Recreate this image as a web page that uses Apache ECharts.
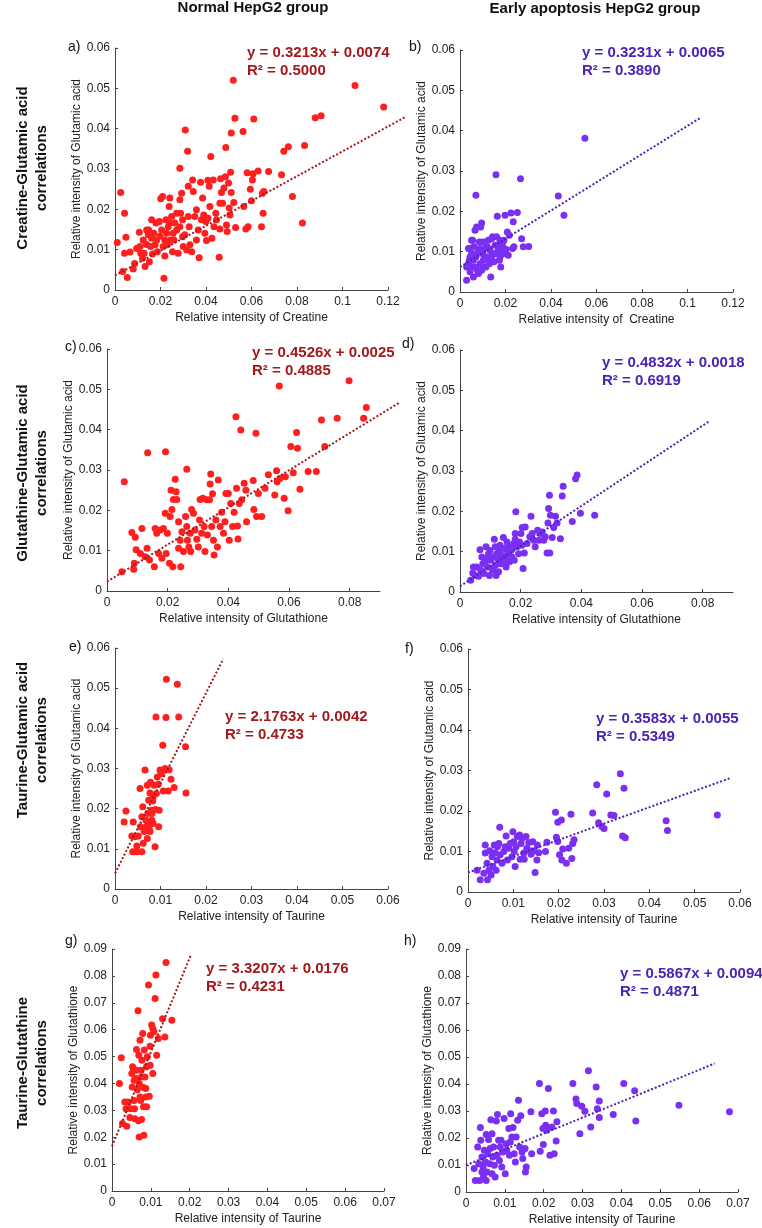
<!DOCTYPE html>
<html>
<head>
<meta charset="utf-8">
<script src="https://cdn.jsdelivr.net/npm/echarts@6/dist/echarts.min.js"></script>
<style>
html, body { margin: 0; padding: 0; background: #fff; }
#main { width: 762px; height: 1228px; }
</style>
</head>
<body>
<div id="main"></div>
<script>
// ---- data ----
var creGluNormal = [
  [0.001,0.0118],[0.0025,0.0242],[0.0042,0.019],[0.0048,0.0131],[0.0034,0.0046],[0.0054,0.0031],[0.0042,0.0091],
  [0.0066,0.0094],[0.008,0.0052],[0.0086,0.0066],[0.0095,0.0103],[0.0107,0.0143],[0.0113,0.0091],[0.0121,0.0079],
  [0.0124,0.0124],[0.0132,0.0058],[0.0139,0.0149],[0.0139,0.0113],[0.0146,0.0137],[0.0151,0.007],[0.0157,0.0108],
  [0.0165,0.0089],[0.0171,0.0141],[0.018,0.0166],[0.0183,0.0124],[0.0186,0.0095],[0.0198,0.0133],[0.0201,0.0226],
  [0.0209,0.0232],[0.0205,0.0149],[0.0212,0.0108],[0.0215,0.0029],[0.0219,0.0084],[0.0224,0.0174],[0.0227,0.0141],
  [0.0234,0.0157],[0.0238,0.0207],[0.0241,0.0228],[0.0244,0.0124],[0.0249,0.0182],[0.0253,0.0095],[0.0256,0.0141],
  [0.0263,0.0166],[0.0271,0.0149],[0.0278,0.0091],[0.0285,0.0302],[0.0285,0.0224],[0.0293,0.024],[0.0288,0.019],
  [0.0297,0.0132],[0.03,0.0108],[0.0309,0.0397],[0.0315,0.0099],[0.0319,0.0344],[0.0322,0.0257],[0.0326,0.0157],
  [0.0337,0.0095],[0.0341,0.0273],[0.0344,0.0244],[0.0351,0.0182],[0.0358,0.0124],[0.0366,0.0149],[0.037,0.008],
  [0.0376,0.0267],[0.0385,0.0228],[0.039,0.0186],[0.0399,0.017],[0.0402,0.0123],[0.0408,0.0272],[0.0414,0.0257],
  [0.0417,0.0207],[0.0421,0.0331],[0.0426,0.0128],[0.0432,0.0273],[0.0435,0.0157],[0.0443,0.019],[0.0458,0.0081],
  [0.0461,0.0151],[0.0464,0.0276],[0.0468,0.0242],[0.0473,0.0215],[0.0479,0.0253],[0.0485,0.0281],[0.0487,0.0353],
  [0.049,0.0161],[0.0493,0.0145],[0.0499,0.0265],[0.0502,0.0203],[0.0508,0.0292],[0.0511,0.0389],[0.0511,0.0242],
  [0.052,0.052],[0.0522,0.0217],[0.0527,0.0426],[0.053,0.0155],[0.0563,0.0393],[0.0566,0.0207],[0.0575,0.0151],
  [0.0581,0.0291],[0.0585,0.0157],[0.0595,0.025],[0.06,0.0221],[0.0604,0.0273],[0.0607,0.0288],[0.061,0.0424],
  [0.0629,0.0295],[0.0644,0.0157],[0.0648,0.024],[0.0651,0.019],[0.0654,0.0244],[0.0675,0.0294],[0.0732,0.0286],
  [0.0742,0.0344],[0.0762,0.0355],[0.078,0.0232],[0.0824,0.0166],[0.0833,0.0358],[0.088,0.0427],[0.0906,0.0432],
  [0.1055,0.0507],[0.1181,0.0454],
  [0.0161,0.0174],[0.0176,0.0112],[0.0195,0.017],[0.0219,0.0124],[0.023,0.0112],[0.0241,0.0166],[0.0259,0.0124],
  [0.0271,0.019],[0.0285,0.0157],[0.0297,0.0174],[0.0307,0.0137],[0.0322,0.0182],[0.0329,0.0112],[0.0358,0.0199],
  [0.038,0.0174],[0.0395,0.0141],[0.0409,0.0178],[0.0446,0.0174],[0.0461,0.0215],[0.0505,0.0186],[0.011,0.0108],
  [0.0128,0.0091],[0.0148,0.0149],[0.0161,0.0128]
];
var creGluApop = [
  [0.0029,0.0029],[0.0029,0.0062],[0.0037,0.0108],[0.0041,0.0079],[0.0044,0.005],[0.0051,0.0128],[0.0051,0.0095],
  [0.0056,0.0062],[0.0059,0.0037],[0.0061,0.0112],[0.0066,0.0153],[0.007,0.024],[0.007,0.0087],[0.0073,0.0161],
  [0.0076,0.0054],[0.0081,0.0103],[0.0085,0.0124],[0.0088,0.007],[0.0091,0.0161],[0.0095,0.0171],[0.01,0.0095],
  [0.0102,0.0124],[0.0105,0.0062],[0.011,0.0108],[0.0117,0.0087],[0.012,0.0112],[0.0124,0.0083],[0.0132,0.0103],
  [0.0135,0.0037],[0.0139,0.0132],[0.0143,0.0137],[0.0146,0.0095],[0.0149,0.0075],[0.0154,0.0116],[0.0158,0.0291],
  [0.0161,0.0137],[0.0164,0.0188],[0.0168,0.0103],[0.0173,0.0079],[0.0176,0.0128],[0.0179,0.0062],[0.0183,0.0108],
  [0.019,0.0095],[0.0193,0.0128],[0.0198,0.019],[0.0202,0.0106],[0.0208,0.0149],[0.0212,0.0091],[0.0217,0.0141],
  [0.0224,0.0196],[0.0231,0.0108],[0.0234,0.0174],[0.0237,0.0112],[0.0252,0.0197],[0.0266,0.0281],[0.0271,0.0132],
  [0.0278,0.0112],[0.0302,0.0113],[0.0432,0.0238],[0.0457,0.019],[0.0549,0.0381],
  [0.0037,0.007],[0.0044,0.0087],[0.0047,0.0108],[0.0056,0.0128],[0.0059,0.0079],[0.0066,0.0062],[0.0073,0.0095],
  [0.0081,0.0046],[0.0088,0.0108],[0.0095,0.0054],[0.0102,0.0079],[0.0114,0.0062],[0.0124,0.0128],[0.0129,0.007],
  [0.0139,0.0087],[0.0154,0.0095],[0.0164,0.0116],[0.0176,0.0087],[0.0187,0.012]
];
var gshGluNormal = [
  [0.0049,0.0048],[0.0057,0.0271],[0.0082,0.0145],[0.0088,0.0054],[0.009,0.0069],[0.0093,0.0133],[0.0096,0.0102],
  [0.011,0.0093],[0.0115,0.0155],[0.0126,0.0085],[0.0132,0.0106],[0.0134,0.0343],[0.014,0.0077],[0.0156,0.006],
  [0.0159,0.0155],[0.0164,0.0143],[0.017,0.0093],[0.0175,0.0151],[0.0181,0.0081],[0.0186,0.0155],[0.0192,0.0193],
  [0.0193,0.0345],[0.0195,0.0093],[0.0199,0.0143],[0.0206,0.0069],[0.0208,0.0185],[0.0211,0.025],[0.0214,0.0202],
  [0.0217,0.006],[0.0219,0.0227],[0.0225,0.0277],[0.0228,0.0246],[0.023,0.0227],[0.0236,0.0172],[0.0236,0.0106],
  [0.0241,0.0126],[0.0243,0.006],[0.0247,0.0147],[0.0252,0.0098],[0.0259,0.0185],[0.0263,0.0302],[0.0263,0.016],
  [0.0265,0.0126],[0.027,0.0109],[0.0274,0.0143],[0.0276,0.0098],[0.0279,0.0202],[0.0285,0.0193],[0.029,0.0151],
  [0.0296,0.0128],[0.0301,0.0109],[0.0305,0.0176],[0.0307,0.0227],[0.0312,0.0143],[0.0316,0.023],[0.032,0.016],
  [0.0323,0.0098],[0.0329,0.0226],[0.0331,0.0139],[0.0338,0.0226],[0.034,0.0265],[0.0342,0.029],[0.0345,0.016],
  [0.0348,0.0241],[0.0351,0.0126],[0.0353,0.0089],[0.0359,0.0176],[0.0364,0.0109],[0.0367,0.0275],[0.0373,0.016],
  [0.0378,0.0195],[0.0384,0.0143],[0.0389,0.0172],[0.0392,0.0242],[0.04,0.0242],[0.0403,0.0126],[0.0408,0.0217],
  [0.0414,0.016],[0.0419,0.0195],[0.0425,0.0432],[0.0427,0.0255],[0.043,0.0161],[0.0432,0.0129],[0.0436,0.0217],
  [0.0441,0.0399],[0.0444,0.0226],[0.0452,0.0267],[0.0458,0.025],[0.046,0.0172],[0.0482,0.0274],[0.0484,0.0202],
  [0.0491,0.0391],[0.0493,0.0185],[0.0499,0.0242],[0.051,0.0185],[0.0521,0.0255],[0.0532,0.0288],[0.0553,0.0238],
  [0.0559,0.0298],[0.0561,0.0271],[0.0568,0.0508],[0.057,0.0279],[0.0584,0.023],[0.0588,0.0283],[0.0597,0.0199],
  [0.0606,0.0358],[0.0614,0.0293],[0.0625,0.0393],[0.0628,0.0354],[0.0636,0.0252],[0.0663,0.0296],[0.069,0.0296],
  [0.0707,0.0424],[0.0718,0.0358],[0.0759,0.0428],[0.0798,0.0521],[0.0846,0.0428],[0.0855,0.0455]
];
var gshGluApop = [
  [0.0035,0.0029],[0.0042,0.0047],[0.005,0.0041],[0.0055,0.0062],[0.0061,0.0039],[0.0066,0.0105],[0.0068,0.0054],
  [0.0075,0.007],[0.0079,0.0046],[0.0083,0.0075],[0.0086,0.0112],[0.009,0.0062],[0.0094,0.0095],[0.0097,0.0041],
  [0.0102,0.0079],[0.0105,0.0058],[0.0108,0.0054],[0.011,0.0087],[0.0113,0.0131],[0.0116,0.0066],[0.0119,0.0041],
  [0.0121,0.0095],[0.0127,0.0079],[0.013,0.0103],[0.0132,0.007],[0.0138,0.0091],[0.0143,0.0135],[0.0146,0.0108],
  [0.0149,0.0083],[0.0152,0.0062],[0.0157,0.0095],[0.016,0.0112],[0.0163,0.0075],[0.0168,0.0103],[0.0171,0.0087],
  [0.0177,0.012],[0.0179,0.0079],[0.0182,0.0131],[0.0184,0.0199],[0.0188,0.0112],[0.0193,0.0095],[0.0196,0.0124],
  [0.0201,0.0145],[0.0205,0.016],[0.0208,0.0058],[0.0212,0.0097],[0.0215,0.0161],[0.0221,0.012],[0.023,0.0137],
  [0.0234,0.0188],[0.0243,0.0128],[0.0248,0.0112],[0.0256,0.0153],[0.026,0.0128],[0.0265,0.0145],[0.0271,0.0149],
  [0.0276,0.0128],[0.0281,0.0137],[0.0287,0.0097],[0.029,0.0171],[0.0292,0.0207],[0.0295,0.024],[0.0296,0.0097],
  [0.0298,0.019],[0.0304,0.0135],[0.0309,0.016],[0.0315,0.0188],[0.032,0.0171],[0.0331,0.0132],[0.0337,0.0238],
  [0.034,0.0262],[0.037,0.0175],[0.0381,0.0281],[0.0386,0.029],[0.0397,0.0195],[0.0444,0.019],
  [0.0044,0.0062],[0.0072,0.0087],[0.0088,0.0083],[0.0099,0.0103],[0.0116,0.0112],[0.0127,0.005],[0.0132,0.0116],
  [0.0141,0.007],[0.0155,0.0124],[0.0171,0.0108],[0.0182,0.0145],[0.0204,0.0116],[0.0238,0.0145]
];
var tauGluNormal = [
  [0.002,0.0167],[0.0024,0.0194],[0.0037,0.0132],[0.0039,0.0093],[0.004,0.0167],[0.0044,0.013],[0.0048,0.0107],
  [0.0049,0.0093],[0.0051,0.0132],[0.0055,0.025],[0.0056,0.0155],[0.0059,0.0093],[0.0059,0.018],[0.0061,0.0205],
  [0.0064,0.0143],[0.0066,0.0296],[0.0068,0.0171],[0.0069,0.0155],[0.0071,0.0258],[0.0072,0.0188],[0.0074,0.0221],
  [0.0075,0.0151],[0.0077,0.0239],[0.0078,0.0266],[0.008,0.0196],[0.0081,0.0171],[0.0083,0.0219],[0.0084,0.0163],
  [0.0086,0.0258],[0.0088,0.0105],[0.0089,0.0198],[0.009,0.0428],[0.0091,0.0238],[0.0093,0.0279],[0.0095,0.0261],
  [0.0096,0.0155],[0.0097,0.0196],[0.0099,0.0296],[0.0102,0.0287],[0.0105,0.0358],[0.0106,0.0244],[0.011,0.03],
  [0.0112,0.0427],[0.0113,0.0522],[0.0117,0.0244],[0.0119,0.0297],[0.0123,0.0273],[0.013,0.0253],[0.0137,0.051],
  [0.014,0.0428],[0.0155,0.0354],[0.0156,0.0239],
  [0.0073,0.0163],[0.0077,0.0143],[0.0081,0.0188],[0.0084,0.023],[0.0071,0.0126],[0.0062,0.0114]
];
var tauGluApop = [
  [0.002,0.0054],[0.0027,0.003],[0.0035,0.0046],[0.0038,0.0116],[0.0038,0.0096],[0.0042,0.0071],[0.0043,0.003],
  [0.0046,0.0054],[0.0048,0.0102],[0.0051,0.0042],[0.0053,0.0087],[0.0055,0.0063],[0.0058,0.0116],[0.006,0.0097],
  [0.0062,0.0054],[0.0064,0.0079],[0.0065,0.0112],[0.0068,0.012],[0.007,0.016],[0.0071,0.0092],[0.0075,0.0071],
  [0.0079,0.01],[0.0082,0.0112],[0.0084,0.0138],[0.0087,0.0079],[0.009,0.0108],[0.0093,0.012],[0.0097,0.0087],
  [0.0099,0.0149],[0.0101,0.0124],[0.0102,0.01],[0.0104,0.0063],[0.0106,0.0112],[0.0109,0.0137],[0.0114,0.0141],
  [0.0115,0.0081],[0.0117,0.012],[0.0119,0.0132],[0.0123,0.0096],[0.0124,0.0081],[0.0128,0.0137],[0.013,0.0108],
  [0.0134,0.0122],[0.0136,0.0102],[0.0139,0.0093],[0.0143,0.0124],[0.0145,0.0102],[0.0148,0.0048],[0.0152,0.0079],
  [0.0153,0.0116],[0.0156,0.0097],[0.0171,0.01],[0.0174,0.0123],[0.0193,0.0197],[0.0195,0.0135],[0.0198,0.0172],
  [0.0198,0.0125],[0.0202,0.0092],[0.0206,0.0178],[0.0207,0.0079],[0.0209,0.0106],[0.0217,0.0071],[0.0222,0.0108],
  [0.0227,0.0192],[0.0229,0.0083],[0.0231,0.012],[0.0234,0.0129],[0.0275,0.0195],[0.0284,0.0265],[0.0288,0.0171],
  [0.0295,0.0162],[0.03,0.0157],[0.0306,0.0242],[0.0315,0.019],[0.0322,0.0189],[0.0336,0.0292],[0.0341,0.0138],
  [0.0344,0.0256],[0.0347,0.0134],[0.0437,0.0176],[0.044,0.0152],[0.055,0.019]
];
var tauGshNormal = [
  [0.0019,0.04],[0.0024,0.0496],[0.0027,0.0251],[0.0033,0.0331],[0.0036,0.0306],[0.0038,0.0241],[0.0042,0.0331],
  [0.0046,0.0273],[0.0048,0.0306],[0.0051,0.0437],[0.0052,0.0387],[0.0053,0.0462],[0.0055,0.0452],[0.0057,0.0337],
  [0.0058,0.0306],[0.0059,0.0269],[0.0062,0.0418],[0.0063,0.0526],[0.0065,0.0377],[0.0067,0.067],[0.0068,0.0261],
  [0.0069,0.0505],[0.007,0.04],[0.007,0.0201],[0.0072,0.0561],[0.0074,0.0337],[0.0075,0.0449],[0.0076,0.0266],
  [0.0077,0.0486],[0.0079,0.0586],[0.0081,0.0385],[0.0082,0.0207],[0.0081,0.0313],[0.0083,0.0524],[0.0085,0.0424],
  [0.0087,0.035],[0.0087,0.0381],[0.0089,0.0313],[0.0094,0.0766],[0.0096,0.0352],[0.0098,0.0468],[0.0098,0.0538],
  [0.0099,0.0579],[0.0102,0.0617],[0.0105,0.0604],[0.0105,0.0437],[0.0108,0.0592],[0.0111,0.0716],[0.0113,0.0803],
  [0.0115,0.0505],[0.0119,0.0567],[0.013,0.0641],[0.0136,0.0573],[0.0139,0.085],[0.0154,0.0635],
  [0.0057,0.0412],[0.0072,0.035],[0.0076,0.0424],[0.0089,0.0462],[0.0091,0.0499],[0.0063,0.0449]
];
var tauGshApop = [
  [0.0021,0.0087],[0.0024,0.0043],[0.003,0.0167],[0.0033,0.0105],[0.0035,0.0043],[0.0037,0.0239],[0.0038,0.0192],
  [0.0041,0.013],[0.0041,0.0074],[0.0044,0.0093],[0.0045,0.0056],[0.0047,0.0155],[0.005,0.0111],[0.0052,0.0213],
  [0.0052,0.0043],[0.0054,0.0074],[0.0056,0.0142],[0.0058,0.0194],[0.0061,0.0105],[0.0062,0.0161],[0.0064,0.0268],
  [0.0067,0.0216],[0.0067,0.0068],[0.0069,0.013],[0.0071,0.0167],[0.0073,0.0099],[0.0075,0.0056],[0.0078,0.0263],
  [0.008,0.0136],[0.0081,0.0287],[0.0084,0.0192],[0.0086,0.0117],[0.0088,0.0167],[0.009,0.0192],[0.0092,0.0093],
  [0.0095,0.0148],[0.0098,0.0272],[0.0101,0.0068],[0.0104,0.0179],[0.0105,0.0155],[0.011,0.0235],[0.0112,0.0136],
  [0.0114,0.0185],[0.0115,0.029],[0.0118,0.0204],[0.0121,0.0239],[0.0124,0.0142],[0.0127,0.0111],[0.0129,0.0204],
  [0.0133,0.0266],[0.0135,0.034],[0.0138,0.0167],[0.0141,0.0282],[0.0144,0.0148],[0.0146,0.0124],[0.0152,0.0161],
  [0.0153,0.0074],[0.0155,0.0093],[0.0167,0.0297],[0.0169,0.0142],[0.0189,0.0402],[0.0191,0.0151],[0.0195,0.029],
  [0.0198,0.0235],[0.0199,0.0176],[0.0204,0.03],[0.0205,0.0247],[0.0208,0.0229],[0.0212,0.0383],[0.0216,0.0136],
  [0.0221,0.0241],[0.0225,0.03],[0.0227,0.0142],[0.0232,0.0189],[0.0234,0.026],[0.0275,0.0402],[0.0283,0.0344],
  [0.0285,0.0328],[0.0293,0.0216],[0.0298,0.0318],[0.0306,0.0299],[0.0315,0.0449],[0.0321,0.0241],[0.0335,0.0389],
  [0.0338,0.0308],[0.0343,0.0337],[0.0343,0.0276],[0.0379,0.0287],[0.0406,0.0402],[0.0434,0.0375],[0.0437,0.0263],
  [0.0548,0.0321],[0.0678,0.0297]
];

// trend line end points as drawn in the figure
var trendLines = [
  [[0, 0.0036], [0.128, 0.043]],
  [[0, 0.0062], [0.106, 0.0433]],
  [[0, 0.0023], [0.0964, 0.0467]],
  [[0, 0.0014], [0.0823, 0.0424]],
  [[0, 0.0039], [0.0238, 0.0573]],
  [[0, 0.0048], [0.0578, 0.0281]],
  [[0, 0.0166], [0.0202, 0.0874]],
  [[0, 0.0099], [0.064, 0.0476]]
];
var equations = [
  'y = 0.3213x + 0.0074', 'y = 0.3231x + 0.0065',
  'y = 0.4526x + 0.0025', 'y = 0.4832x + 0.0018',
  'y = 2.1763x + 0.0042', 'y = 0.3583x + 0.0055',
  'y = 3.3207x + 0.0176', 'y = 0.5867x + 0.0094'
];
var rSquared = ['R² = 0.5000', 'R² = 0.3890', 'R² = 0.4885', 'R² = 0.6919',
                'R² = 0.4733', 'R² = 0.5349', 'R² = 0.4231', 'R² = 0.4871'];
var panelLetters = ['a)', 'b)', 'c)', 'd)', 'e)', 'f)', 'g)', 'h)'];
var xNames = ['Relative intensity of Creatine', 'Relative intensity of  Creatine',
              'Relative intensity of Glutathione', 'Relative intensity of Glutathione',
              'Relative intensity of Taurine', 'Relative intensity of Taurine',
              'Relative intensity of Taurine', 'Relative intensity of Taurine'];
var yNames = ['Relative intensity of Glutamic acid', 'Relative intensity of Glutamic acid',
              'Relative intensity of Glutamic acid', 'Relative intensity of Glutamic acid',
              'Relative intensity of Glutamic acid', 'Relative intensity of Glutamic acid',
              'Relative intensity of Glutathione', 'Relative intensity of Glutathione'];
var xMax = [0.12, 0.12, 0.09, 0.09, 0.06, 0.06, 0.07, 0.07];
var xStep = [0.02, 0.02, 0.02, 0.02, 0.01, 0.01, 0.01, 0.01];
var yMax = [0.06, 0.06, 0.06, 0.06, 0.06, 0.06, 0.09, 0.09];
var yStep = [0.01, 0.01, 0.01, 0.01, 0.01, 0.01, 0.01, 0.01];
var columnTitles = ['Normal HepG2 group', 'Early apoptosis HepG2 group'];
var rowTitles = [
  ['Creatine-Glutamic acid', 'correlations'],
  ['Glutathine-Glutamic acid', 'correlations'],
  ['Taurine-Glutamic acid', 'correlations'],
  ['Taurine-Glutathine', 'correlations']
];
var allPoints = [creGluNormal, creGluApop, gshGluNormal, gshGluApop,
                 tauGluNormal, tauGluApop, tauGshNormal, tauGshApop];

// ---- layout ----
var FONT = '"Liberation Sans", Arial, sans-serif';
var RED = '#ff1f1f', RED_DARK = '#a3181b';
var PURPLE = '#7b2ff2', PURPLE_DARK = '#4a22b4';

var grids = [
  {left: 115, top: 48, width: 273, height: 242},
  {left: 460, top: 50, width: 273, height: 242},
  {left: 107, top: 349, width: 273, height: 242},
  {left: 460, top: 350, width: 273, height: 242},
  {left: 115, top: 648, width: 273, height: 241},
  {left: 468, top: 649, width: 272, height: 243},
  {left: 112, top: 949, width: 272, height: 242},
  {left: 466, top: 949, width: 272, height: 243}
];
var eqPos = [[247, 53], [582, 53], [252, 353], [602, 363], [225, 717], [596, 719], [206, 969], [620, 974]];
var letterPos = [[76, 48], [417, 48], [73, 348], [410, 345], [77, 648], [413, 650], [73, 942], [412, 942]];
var rowCenter = [168, 473, 740, 1063];

function fmt(v) { return String(+v.toFixed(3)); }

var myChart = echarts.init(document.getElementById('main'));

var xAxes = [], yAxes = [], series = [], graphics = [];
for (var i = 0; i < 8; i++) {
  var red = (i % 2 === 0);
  grids[i].outerBoundsMode = 'none';
  xAxes.push({
    gridIndex: i, type: 'value', min: 0, max: xMax[i], interval: xStep[i],
    name: xNames[i], nameLocation: 'middle', nameGap: 22,
    nameTextStyle: {fontFamily: FONT, fontSize: 12, color: '#222'},
    axisLine: {lineStyle: {color: '#444', width: 1}},
    axisTick: {inside: true, length: 3, lineStyle: {color: '#444'}},
    axisLabel: {fontFamily: FONT, fontSize: 12, color: '#222', margin: 6, formatter: fmt,
                showMaxLabel: (xMax[i] !== 0.09)},
    splitLine: {show: false}
  });
  yAxes.push({
    gridIndex: i, type: 'value', min: 0, max: yMax[i], interval: yStep[i],
    name: yNames[i], nameLocation: 'middle', nameGap: 30,
    nameTextStyle: {fontFamily: FONT, fontSize: 12, color: '#222'},
    axisLine: {show: true, lineStyle: {color: '#444', width: 1}},
    axisTick: {show: true, inside: true, length: 3, lineStyle: {color: '#444'}},
    axisLabel: {fontFamily: FONT, fontSize: 12, color: '#222', margin: 5, formatter: fmt},
    splitLine: {show: false}
  });
  series.push({
    type: 'scatter', xAxisIndex: i, yAxisIndex: i,
    symbolSize: 7, itemStyle: {color: red ? RED : PURPLE, opacity: 1},
    data: allPoints[i], z: 2
  });
  // dotted trend line; drawn as a custom polyline so it may run past the axis end like the original
  series.push({
    type: 'custom', xAxisIndex: i, yAxisIndex: i, clip: false, silent: true, z: 3,
    data: [trendLines[i][0].concat(trendLines[i][1])],
    renderItem: (function (col) {
      return function (params, api) {
        var p0 = api.coord([api.value(0), api.value(1)]);
        var p1 = api.coord([api.value(2), api.value(3)]);
        return {
          type: 'polyline',
          shape: {points: [p0, p1]},
          style: {stroke: col, lineWidth: 2, lineDash: [2, 2], fill: null}
        };
      };
    })(red ? RED_DARK : PURPLE_DARK),
    encode: {x: [0, 2], y: [1, 3]}
  });
  graphics.push({
    type: 'text', left: eqPos[i][0], top: eqPos[i][1] - 9,
    style: {text: equations[i] + '\n' + rSquared[i], font: 'bold 15px ' + FONT,
            fill: red ? RED_DARK : PURPLE_DARK, lineHeight: 18}
  });
  graphics.push({
    type: 'text', left: letterPos[i][0] - 8, top: letterPos[i][1] - 8,
    style: {text: panelLetters[i], font: '14px ' + FONT, fill: '#111'}
  });
}
graphics.push({type: 'text', x: 253, y: 8,
  style: {text: columnTitles[0], font: 'bold 15px ' + FONT, fill: '#111', align: 'center', verticalAlign: 'middle'}});
graphics.push({type: 'text', x: 595, y: 9,
  style: {text: columnTitles[1], font: 'bold 15px ' + FONT, fill: '#111', align: 'center', verticalAlign: 'middle'}});
for (var r = 0; r < 4; r++) {
  graphics.push({type: 'text', x: 32, y: rowCenter[r], rotation: Math.PI / 2,
    style: {text: rowTitles[r][0] + '\n' + rowTitles[r][1], font: 'bold 15px ' + FONT, fill: '#111',
            align: 'center', verticalAlign: 'middle', lineHeight: 19}});
}

var option = {
  backgroundColor: '#fff',
  animation: false,
  grid: grids,
  xAxis: xAxes,
  yAxis: yAxes,
  series: series,
  graphic: graphics
};
myChart.setOption(option);
</script>
</body>
</html>
